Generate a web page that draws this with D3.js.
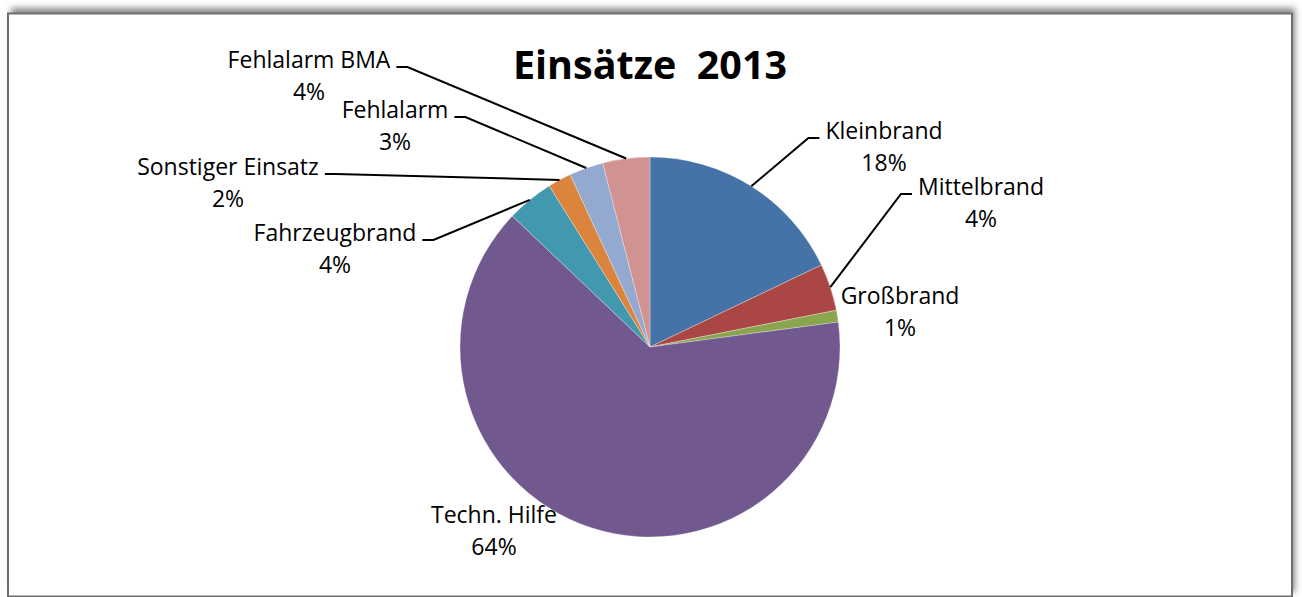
<!DOCTYPE html>
<html>
<head>
<meta charset="utf-8">
<script src="https://cdn.jsdelivr.net/npm/d3@7"></script>
<style>
  body { margin: 0; background: #fff; }
  text { font-family: "Open Sans", sans-serif; fill: #000; }
</style>
</head>
<body>
<div id="chart"></div>
<script>
// Data (share of all missions, in percent)
var categories = ["Kleinbrand", "Mittelbrand", "Großbrand", "Techn. Hilfe",
  "Fahrzeugbrand", "Sonstiger Einsatz", "Fehlalarm", "Fehlalarm BMA"];
var values = [17.9, 4.0, 1.0, 64.2, 4.0, 2.0, 2.9, 4.0];
var title = "Einsätze  2013";

var colors = ["#4572A7", "#AA4643", "#89A54E", "#71588F",
  "#4198AF", "#DB843D", "#93A9CF", "#D19392"];

// Label placement relative to the pie centre (Excel "best fit" look)
var labelPos = [[234, -208], [331, -152], [250, -43], [-156, 176],
  [-315, -106], [-422, -172], [-255, -229], [-341, -279]];
var hasLeader = [true, true, false, false, true, true, true, true];

var width = 1302, height = 597;
var cx = 650, cy = 347, radius = 190;

var svg = d3.select("#chart")
  .append("svg")
  .attr("width", width)
  .attr("height", height);

// Drop shadow for the chart frame
var defs = svg.append("defs");
defs.append("filter")
  .attr("id", "blur")
  .attr("x", "-5%").attr("y", "-20%")
  .attr("width", "110%").attr("height", "140%")
  .append("feGaussianBlur")
  .attr("stdDeviation", 3);

svg.append("rect")
  .attr("x", 11).attr("y", 8)
  .attr("width", 1284).attr("height", 584)
  .attr("fill", "#8a8a8a")
  .attr("filter", "url(#blur)");

svg.append("rect")
  .attr("x", 8).attr("y", 13.5)
  .attr("width", 1284).attr("height", 583)
  .attr("fill", "#fff")
  .attr("stroke", "#6e6e6e")
  .attr("stroke-width", 2);

// Title
svg.append("text")
  .attr("x", cx)
  .attr("y", 78.5)
  .attr("text-anchor", "middle")
  .style("font-size", "39.5px")
  .style("font-weight", "bold")
  .style("white-space", "pre")
  .text(title);

var data = categories.map(function (c, i) { return { name: c, value: values[i], i: i } });
var total = d3.sum(values);
var pct = d3.format(".0%");

var pie = d3.pie()
  .sort(null)
  .value(function (d) { return d.value; });

var arc = d3.arc()
  .innerRadius(0)
  .outerRadius(radius);

var g = svg.append("g")
  .attr("transform", "translate(" + cx + "," + cy + ")");

var arcs = pie(data);

g.selectAll("path.slice")
  .data(arcs)
  .enter()
  .append("path")
  .attr("class", "slice")
  .attr("d", arc)
  .attr("fill", function (d) { return colors[d.data.i]; })
  .attr("stroke", "#fff")
  .attr("stroke-width", 0.5)
  .attr("stroke-opacity", 0.6);

// Labels: name + percent on two lines
var labels = g.selectAll("text.lbl")
  .data(arcs)
  .enter()
  .append("text")
  .attr("class", "lbl")
  .attr("text-anchor", "middle")
  .style("font-size", "23px");

labels.append("tspan")
  .attr("class", "name")
  .attr("x", function (d) { return labelPos[d.data.i][0]; })
  .attr("y", function (d) { return labelPos[d.data.i][1]; })
  .text(function (d) { return d.data.name; });

labels.append("tspan")
  .attr("x", function (d) { return labelPos[d.data.i][0]; })
  .attr("y", function (d) { return labelPos[d.data.i][1] + 32; })
  .text(function (d) { return pct(d.data.value / total); });

// Leader lines from the slice edge to the label
labels.each(function (d) {
  if (!hasLeader[d.data.i]) return;
  var w = d3.select(this).select("tspan.name").node().getComputedTextLength();
  var p = labelPos[d.data.i];
  var a = (d.startAngle + d.endAngle) / 2;
  var sx = radius * Math.sin(a), sy = -radius * Math.cos(a);
  var right = p[0] > 0;
  var ex = right ? p[0] - w / 2 - 6 : p[0] + w / 2 + 6;
  var kx = right ? ex - 11 : ex + 11;
  var ky = p[1] - 1;
  g.append("path")
    .attr("d", "M" + sx + "," + sy + "L" + kx + "," + ky + "L" + ex + "," + ky)
    .attr("fill", "none")
    .attr("stroke", "#000")
    .attr("stroke-width", 2);
});
</script>
</body>
</html>
